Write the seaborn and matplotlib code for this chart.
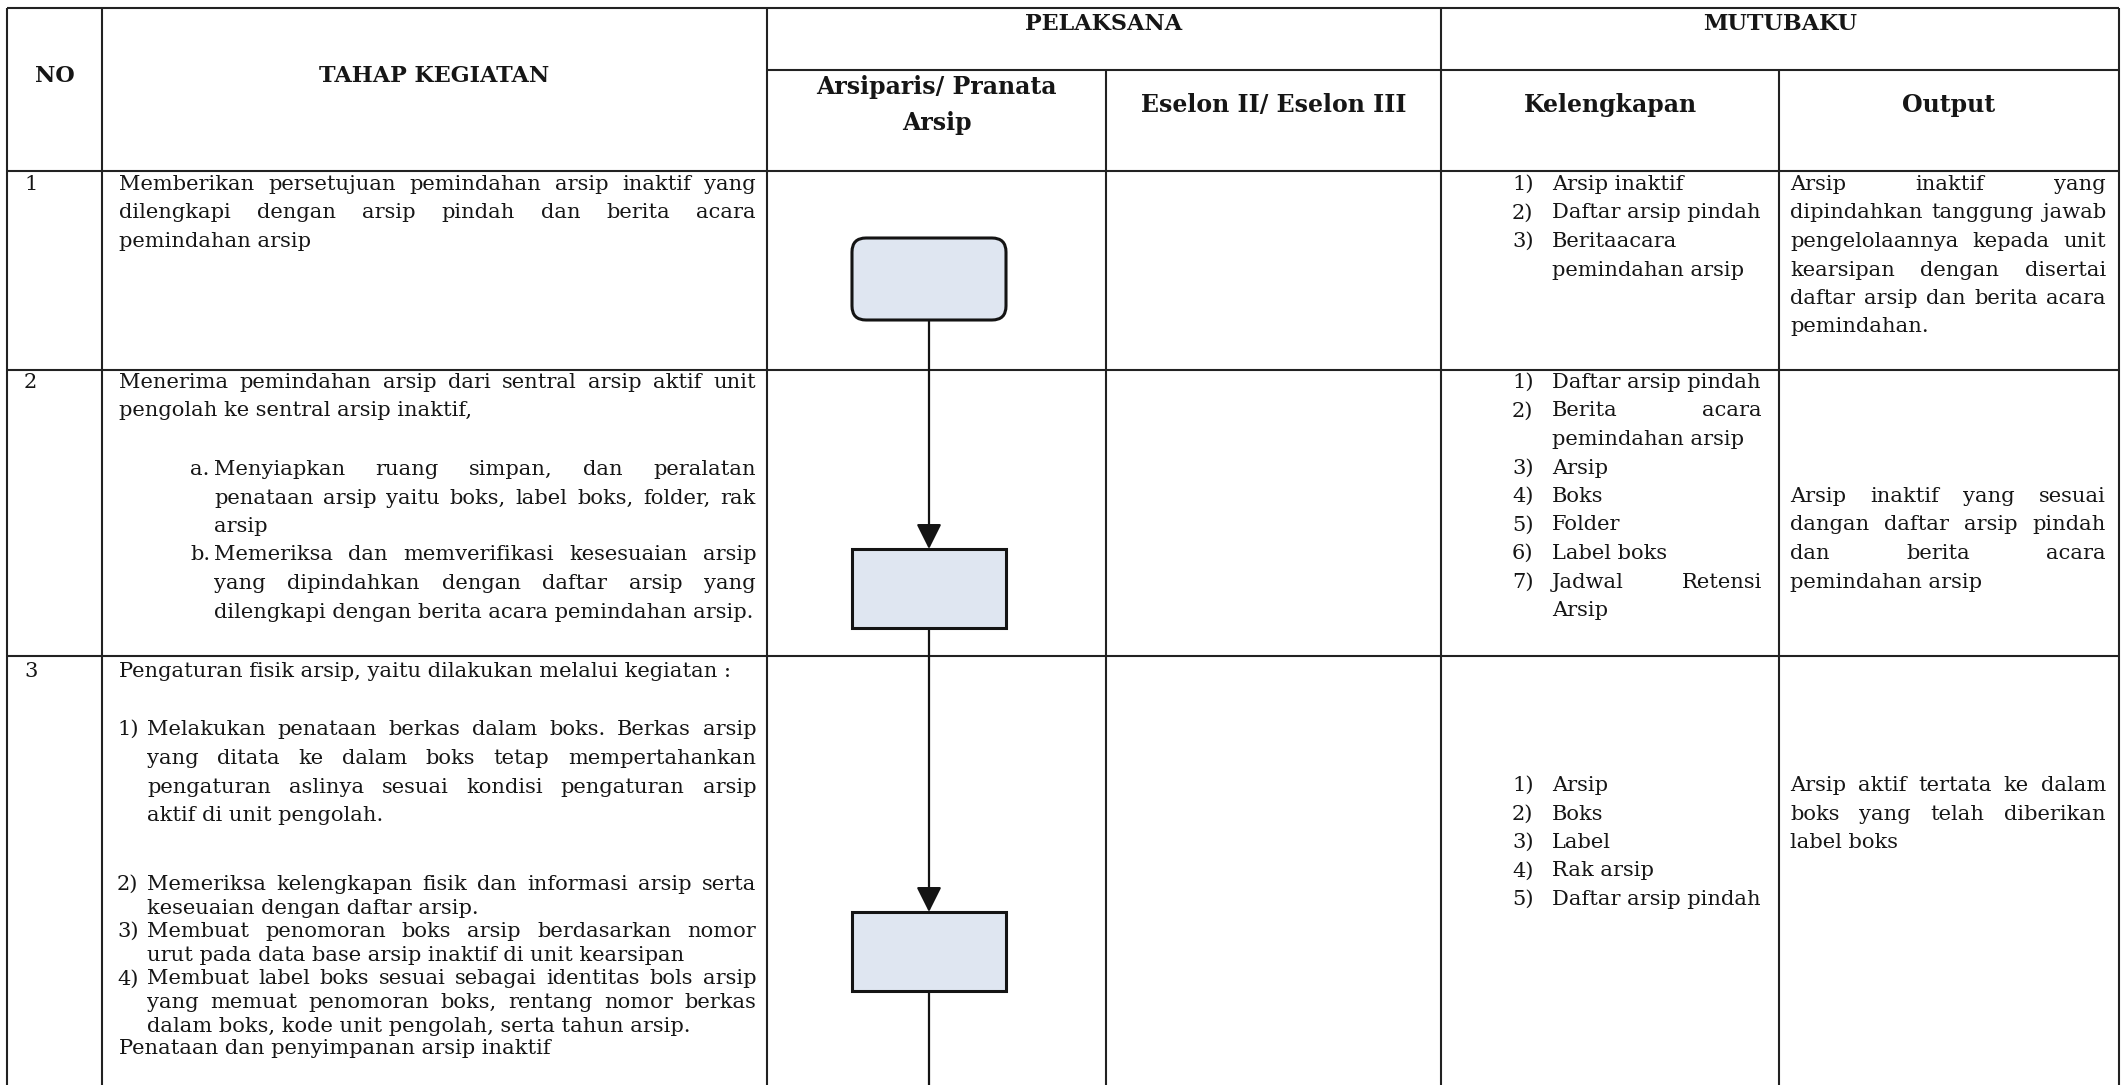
# Flowchart table: pemindahan dan penataan arsip inaktif
import numpy as np
import pandas as pd
import matplotlib.pyplot as plt
import seaborn as sns
from matplotlib.patches import FancyBboxPatch

# -----------------------------------------
# Data (text of the table)
# -----------------------------------------
header_top = ["NO", "TAHAP KEGIATAN", "PELAKSANA", "MUTUBAKU"]
header_sub = ["Arsiparis/ Pranata\nArsip", "Eselon II/ Eselon III", "Kelengkapan", "Output"]
step_no = ["1", "2", "3"]

tahap_1 = [("", ["Memberikan persetujuan pemindahan arsip inaktif yang",
                 "dilengkapi dengan arsip pindah dan berita acara",
                 "pemindahan arsip"])]
tahap_2 = [("", ["Menerima pemindahan arsip dari sentral arsip aktif unit",
                 "pengolah ke sentral arsip inaktif,"]),
           ("a.", ["Menyiapkan ruang simpan, dan peralatan",
                   "penataan arsip yaitu boks, label boks, folder, rak",
                   "arsip"]),
           ("b.", ["Memeriksa dan memverifikasi kesesuaian arsip",
                   "yang dipindahkan dengan daftar arsip yang",
                   "dilengkapi dengan berita acara pemindahan arsip."])]
tahap_3 = [("", ["Pengaturan fisik arsip, yaitu dilakukan melalui kegiatan :"]),
           ("1)", ["Melakukan penataan berkas dalam boks. Berkas arsip",
                   "yang ditata ke dalam boks tetap mempertahankan",
                   "pengaturan aslinya sesuai kondisi pengaturan arsip",
                   "aktif di unit pengolah."]),
           ("2)", ["Memeriksa kelengkapan fisik dan informasi arsip serta",
                   "keseuaian dengan daftar arsip."]),
           ("3)", ["Membuat penomoran boks arsip berdasarkan nomor",
                   "urut pada data base arsip inaktif di unit kearsipan"]),
           ("4)", ["Membuat label boks sesuai sebagai identitas bols arsip",
                   "yang memuat penomoran boks, rentang nomor berkas",
                   "dalam boks, kode unit pengolah, serta tahun arsip."]),
           ("", ["Penataan dan penyimpanan arsip inaktif"])]
tahap = [tahap_1, tahap_2, tahap_3]

kelengkapan_1 = [("1)", ["Arsip inaktif"]), ("2)", ["Daftar arsip pindah"]),
                 ("3)", ["Beritaacara", "pemindahan arsip"])]
kelengkapan_2 = [("1)", ["Daftar arsip pindah"]), ("2)", ["Berita acara", "pemindahan arsip"]),
                 ("3)", ["Arsip"]), ("4)", ["Boks"]), ("5)", ["Folder"]),
                 ("6)", ["Label boks"]), ("7)", ["Jadwal Retensi", "Arsip"])]
kelengkapan_3 = [("1)", ["Arsip"]), ("2)", ["Boks"]), ("3)", ["Label"]),
                 ("4)", ["Rak arsip"]), ("5)", ["Daftar arsip pindah"])]
kelengkapan = [kelengkapan_1, kelengkapan_2, kelengkapan_3]

output_1 = ["Arsip inaktif yang", "dipindahkan tanggung jawab", "pengelolaannya kepada unit",
            "kearsipan dengan disertai", "daftar arsip dan berita acara", "pemindahan."]
output_2 = ["Arsip inaktif yang sesuai", "dangan daftar arsip pindah", "dan berita acara",
            "pemindahan arsip"]
output_3 = ["Arsip aktif tertata ke dalam", "boks yang telah diberikan", "label boks"]
output = [output_1, output_2, output_3]

box_shapes = ["rounded", "rect", "rect"]

# -----------------------------------------
# Layout (pixel grid of the page)
# -----------------------------------------
W, H = 2127, 1085
col_x = [7, 102, 767, 1106, 1441, 1779, 2119]
top_y, sub_y, head_y = 8, 70, 171
row_y = [171, 370, 656, H]
first_line = [183, 381, 670]
# start y and line step for each paragraph of TAHAP KEGIATAN
tahap_pos = [[(183, 28.5)],
             [(381, 28.5), (468, 28.5), (553.5, 28.5)],
             [(670, 28.5), (728, 28.8), (883, 23.6), (930.2, 23.6), (977.4, 23.6), (1047, 23.6)]]
kel_start = [183, 381, 784]
out_start = [183, 495, 784]
box_y = [(238, 320), (549, 628), (912, 991)]
box_x = (852, 1006)

LINE = "#222222"
INK = "#161616"
BODY = dict(family="DejaVu Serif", fontsize=15.1, color=INK)

sns.set_theme(style="white")
plt.rcParams['font.family'] = ['DejaVu Serif']

fig = plt.figure(figsize=(W / 100, H / 100), dpi=100)
ax = fig.add_axes([0, 0, 1, 1])
ax.set_xlim(0, W)
ax.set_ylim(H, 0)
ax.axis("off")
R = fig.canvas.get_renderer()


def text_width(s, **kw):
    t = ax.text(0, 0, s, **kw)
    w = t.get_window_extent(renderer=R).width
    t.remove()
    return w


def put_line(x0, x1, y, s, justify, **kw):
    yb = y + 7
    words = s.split()
    if not justify or len(words) < 2:
        ax.text(x0, yb, s, ha="left", va="baseline", **kw)
        return
    widths = [text_width(w, **kw) for w in words]
    gap = max((x1 - x0 - sum(widths)) / (len(words) - 1), 4)
    x = x0
    for w, wd in zip(words, widths):
        ax.text(x, yb, w, ha="left", va="baseline", **kw)
        x += wd + gap


def put_para(label, label_x, x0, x1, y0, dy, lines):
    if label:
        ax.text(label_x, y0 + 7, label, ha="left", va="baseline", **BODY)
    for i, s in enumerate(lines):
        put_line(x0, x1, y0 + i * dy, s, i < len(lines) - 1, **BODY)


# -----------------------------------------
# Grid lines
# -----------------------------------------
lw = 1.5
ax.hlines(top_y, col_x[0], col_x[-1], color=LINE, lw=lw)
ax.hlines(sub_y, col_x[2], col_x[-1], color=LINE, lw=lw)
ax.hlines(row_y[:-1], col_x[0], col_x[-1], color=LINE, lw=lw)
ax.vlines([col_x[i] for i in (0, 1, 2, 4, 6)], top_y, H, color=LINE, lw=lw)
ax.vlines([col_x[3], col_x[5]], sub_y, H, color=LINE, lw=lw)

# -----------------------------------------
# Headers
# -----------------------------------------
HEAD = dict(family="DejaVu Serif", fontweight="bold", color=INK)
ax.text((col_x[0] + col_x[1]) / 2, 76, header_top[0], ha="center", va="center", fontsize=16, **HEAD)
ax.text((col_x[1] + col_x[2]) / 2, 76, header_top[1], ha="center", va="center", fontsize=16, **HEAD)
ax.text((col_x[2] + col_x[4]) / 2, 24, header_top[2], ha="center", va="center", fontsize=16, **HEAD)
ax.text((col_x[4] + col_x[6]) / 2, 24, header_top[3], ha="center", va="center", fontsize=16, **HEAD)
for i, lab in enumerate(header_sub):
    ax.text((col_x[2 + i] + col_x[3 + i]) / 2, 105, lab, ha="center", va="center",
            fontsize=17, linespacing=1.6, **HEAD)

# -----------------------------------------
# Body rows
# -----------------------------------------
for r in range(3):
    ax.text(24, first_line[r] + 7, step_no[r], ha="left", va="baseline", **BODY)

    for (label, lines), (y0, dy) in zip(tahap[r], tahap_pos[r]):
        if label in ("a.", "b."):
            put_para(label, 190, 214, 756, y0, dy, lines)
        elif label:
            put_para(label, 117, 147, 756, y0, dy, lines)
        else:
            put_para("", 119, 119, 756, y0, dy, lines)

    k = 0
    for label, lines in kelengkapan[r]:
        put_para(label, 1512, 1552, 1762, kel_start[r] + k * 28.5, 28.5, lines)
        k += len(lines)

    put_para("", 1790, 1790, 2106, out_start[r], 28.5, output[r])

# -----------------------------------------
# Flowchart in the Arsiparis lane
# -----------------------------------------
cx = (box_x[0] + box_x[1]) / 2
for shape, (y0, y1) in zip(box_shapes, box_y):
    style = "round,pad=0,rounding_size=14" if shape == "rounded" else "square,pad=0"
    ax.add_patch(FancyBboxPatch((box_x[0], y0), box_x[1] - box_x[0], y1 - y0,
                                boxstyle=style, facecolor="#dfe6f1",
                                edgecolor="#141414", lw=2.2, zorder=3))
for (a0, a1), (b0, b1) in zip(box_y[:-1], box_y[1:]):
    ax.annotate("", xy=(cx, b0), xytext=(cx, a1),
                arrowprops=dict(arrowstyle="-|>,head_length=0.7,head_width=0.35",
                                color="#141414", lw=1.6, shrinkA=0, shrinkB=0,
                                mutation_scale=22), zorder=2)
ax.vlines(cx, box_y[-1][1], H, color="#141414", lw=1.6)

fig.savefig("out.png", dpi=100)
plt.close(fig)
